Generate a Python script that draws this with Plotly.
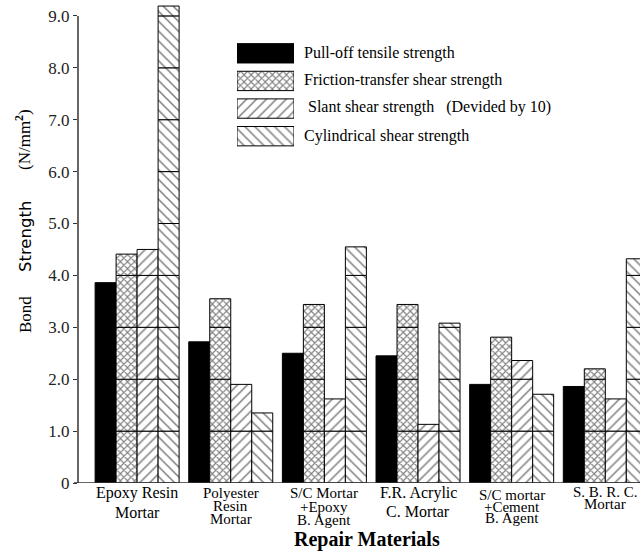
import plotly.graph_objects as go

# ---------------- data ----------------
categories = ["Epoxy Resin Mortar", "Polyester Resin Mortar", "S/C Mortar +Epoxy B. Agent",
              "F.R. Acrylic C. Mortar", "S/C mortar +Cement B. Agent", "S. B. R. C. Mortar"]
category_lines = [["Epoxy Resin", "Mortar"],
                  ["Polyester", "Resin", "Mortar"],
                  ["S/C Mortar", "+Epoxy", "B. Agent"],
                  ["F.R. Acrylic", "C. Mortar"],
                  ["S/C mortar", "+Cement", "B. Agent"],
                  ["S. B. R. C.", "Mortar"]]
series_names = ["Pull-off tensile strength",
                "Friction-transfer shear strength",
                "\u00a0Slant shear strength\u00a0\u00a0\u00a0(Devided by 10)",
                "Cylindrical shear strength"]
pull_off = [3.86, 2.72, 2.50, 2.45, 1.90, 1.86]
friction = [4.41, 3.55, 3.44, 3.44, 2.81, 2.20]
slant = [4.50, 1.90, 1.62, 1.13, 2.36, 1.62]
cylindrical = [9.19, 1.35, 4.55, 3.08, 1.71, 4.32]
y_tick_values = [0, 1, 2, 3, 4, 5, 6, 7, 8, 9]
y_tick_labels = ["0", "1.0", "2.0", "3.0", "4.0", "5.0", "6.0", "7.0", "8.0", "9.0"]

# ---------------- layout helpers ----------------
W, H = 640, 552
ML, MB = 78, 69
PW, PH = W - ML, H - MB
SCALE = 51.9  # px per unit


def px_x(p):
    return (p - ML) / PW


def px_y(p):
    return (PH - p) / PH


FONT = "Liberation Serif, Times New Roman, serif"
patterns = [None,
            dict(shape="x", size=5, solidity=0.4),
            dict(shape="/", size=7, solidity=0.22),
            dict(shape="\\", size=7, solidity=0.22)]
series_values = [pull_off, friction, slant, cylindrical]

fig = go.Figure()

# black pull-off bars
fig.add_trace(go.Bar(x=categories, y=pull_off, offsetgroup="0",
                     marker=dict(color="black", line=dict(color="black", width=1)),
                     showlegend=False, hoverinfo="skip"))

# hatched bars, built from unit segments so each 1.0 level shows a line
for si in range(1, 4):
    vals = series_values[si]
    for k in range(10):
        seg = [min(1.0, v - k) if v > k else None for v in vals]
        if all(s is None for s in seg):
            continue
        fig.add_trace(go.Bar(
            x=categories, y=seg, base=[k] * len(vals), offsetgroup=str(si),
            marker=dict(color="white", line=dict(color="black", width=1),
                        pattern=dict(fgcolor="black", bgcolor="white", fillmode="overlay", **patterns[si])),
            showlegend=False, hoverinfo="skip"))

# legend swatches (separate small axes so the hatching matches)
leg_idx = [0, 1, 2, 3]
for si in range(4):
    m = dict(color="black", line=dict(color="black", width=1)) if si == 0 else dict(
        color="white", line=dict(color="black", width=1),
        pattern=dict(fgcolor="black", bgcolor="white", fillmode="overlay", **patterns[si]))
    fig.add_trace(go.Bar(x=[1], y=[leg_idx[si]], orientation="h", base=[0], width=[0.7], offset=-0.35,
                         offsetgroup="leg", marker=m, xaxis="x2", yaxis="y2",
                         showlegend=False, hoverinfo="skip"))

leg_centers = [53, 79.7, 106.5, 136]
annotations = []
for si in range(4):
    annotations.append(dict(x=px_x(301.5), y=px_y(leg_centers[si]), xref="paper", yref="paper",
                            text=series_names[si], showarrow=False, xanchor="left", yanchor="middle",
                            font=dict(family=FONT, size=16, color="black")))

# category labels, line by line
first_line = [493, 493, 493, 493, 495, 492]
line_gap = [19, 13, 13.5, 18, 11.5, 12]
label_size = [16, 15, 15, 16, 15, 15]
for ci, lines in enumerate(category_lines):
    for li, txt in enumerate(lines):
        annotations.append(dict(x=categories[ci], y=px_y(first_line[ci] + li * line_gap[ci]), xref="x", yref="paper",
                                text=txt, showarrow=False, xanchor="center", yanchor="middle",
                                font=dict(family=FONT, size=label_size[ci], color="black")))

# axis titles
annotations.append(dict(x=px_x(367), y=px_y(539.5), xref="paper", yref="paper", text="<b>Repair Materials</b>",
                        showarrow=False, xanchor="center", yanchor="middle",
                        font=dict(family=FONT, size=20, color="black")))
annotations.append(dict(x=px_x(25), y=px_y(315), xref="paper", yref="paper", text="Bond", textangle=-90,
                        showarrow=False, xanchor="center", yanchor="middle",
                        font=dict(family=FONT, size=17, color="black")))
annotations.append(dict(x=px_x(25), y=px_y(237), xref="paper", yref="paper", text="Strength", textangle=-90,
                        showarrow=False, xanchor="center", yanchor="middle",
                        font=dict(family="DejaVu Sans, sans-serif", size=16.5, color="black")))
annotations.append(dict(x=px_x(23), y=px_y(140), xref="paper", yref="paper",
                        text="(N/mm<sup><b>2</b></sup>)",
                        textangle=-90, showarrow=False, xanchor="center", yanchor="middle",
                        font=dict(family=FONT, size=17, color="black")))

shapes = [
    dict(type="line", xref="paper", yref="y", x0=0, x1=0, y0=0, y1=9, line=dict(color="#333", width=1.5)),
    dict(type="line", xref="paper", yref="y", x0=-4 / PW, x1=1, y0=0, y1=0, line=dict(color="#333", width=1.5)),
]

x_lo = -(137.1 - ML) / 93.64
x_hi = 5 + (W - 605.3) / 93.64

fig.update_layout(
    width=W, height=H,
    margin=dict(l=ML, r=0, t=0, b=MB),
    paper_bgcolor="white", plot_bgcolor="white",
    barmode="group", bargap=0.103, bargroupgap=0,
    showlegend=False,
    annotations=annotations, shapes=shapes,
    xaxis=dict(range=[x_lo, x_hi], showticklabels=False, ticks="", showgrid=False, zeroline=False,
               showline=False, fixedrange=True),
    yaxis=dict(range=[0, PH / SCALE], tickvals=y_tick_values, ticktext=y_tick_labels, ticks="outside",
               ticklen=4, tickwidth=1, tickcolor="#333", showgrid=False, zeroline=False, showline=False,
               tickfont=dict(family=FONT, size=17, color="#222"), fixedrange=True),
    xaxis2=dict(domain=[px_x(237), px_x(294)], range=[0, 1], anchor="y2", visible=False, fixedrange=True),
    yaxis2=dict(domain=[px_y(150), px_y(39.5)], range=[3.5, -0.5], anchor="x2", visible=False, fixedrange=True),
    font=dict(family=FONT, color="black"),
)

fig.write_html("out.html", config=dict(displayModeBar=False),
               post_script="document.body.style.margin='0';document.body.style.overflow='hidden';")
